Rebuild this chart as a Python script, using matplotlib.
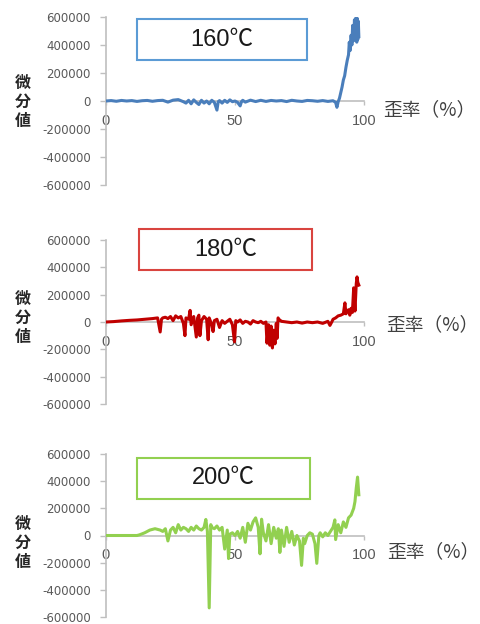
import matplotlib
matplotlib.use("Agg")
import matplotlib.pyplot as plt
from matplotlib.patches import Rectangle

plt.rcParams['font.family'] = ['Liberation Sans', 'Noto Sans CJK JP', 'DejaVu Sans']

# ---------------- data ----------------
titles = ["160℃", "180℃", "200℃"]
line_colors = ["#4a7ebb", "#c00000", "#92d050"]
box_colors = ["#5b9bd5", "#d9443f", "#92d050"]
y_ticks = [-600000, -400000, -200000, 0, 200000, 400000, 600000]
y_tick_labels = ["-600000", "-400000", "-200000", "0", "200000", "400000", "600000"]
x_ticks = [0, 50, 100]
x_tick_labels = ["0", "50", "100"]
y_label = "微\n分\n値"
x_label = "歪率（%）"

strain_160 = [0, 2, 4, 6, 8, 10, 12, 14, 16, 18, 20, 22, 24, 26, 28, 30, 31, 32, 33, 34,
              35, 36, 37, 38, 39, 40, 41, 42, 43, 43.5, 44, 45, 46, 47, 48, 49, 50, 51, 52, 52.5,
              53, 54, 56, 58, 60, 62, 64, 66, 68, 70, 72, 74, 76, 78, 80, 82, 84, 86, 88, 89,
              89.5, 90, 90.5, 91, 91.5, 92, 92.5, 93, 93.5, 94, 94.3, 94.6, 95, 95.3, 95.6, 96,
              96.3, 96.6, 97, 97.2, 97.4, 97.6, 97.8, 98]
diff_160 = [0, 3000, -2000, 4000, 0, 3000, -3000, 2000, 4000, -2000, 3000, 5000, -8000, 6000, 10000,
            -5000, -15000, 5000, -20000, 8000, -10000, -25000, 5000, -15000, 0, -20000, 5000, -10000,
            -65000, -5000, 3000, -15000, 5000, -10000, 8000, -5000, 0, -10000, -35000, -5000,
            5000, -8000, 6000, -4000, 5000, -3000, 4000, 0, 3000, -4000, 5000, 0, -3000, 4000,
            2000, -2000, 3000, -3000, 2000, -10000, -45000, -5000, 20000, 60000, 100000, 150000,
            180000, 240000, 290000, 330000, 420000, 360000, 470000, 400000, 540000, 430000,
            580000, 450000, 600000, 420000, 590000, 440000, 570000, 460000]

strain_180 = [0, 3, 6, 9, 12, 15, 18, 20, 21, 21.5, 22, 23, 24, 25, 26, 27, 28, 29, 30, 30.6,
              31, 32, 32.6, 33, 34, 35, 35.5, 36, 36.4, 37, 38, 39, 39.6, 40, 41, 41.5, 42, 43,
              44, 45, 46, 47, 48, 49, 49.8, 50.3, 51, 52, 53, 54, 55, 56, 57, 58, 59, 60, 61,
              62, 62.4, 63, 63.5, 64, 64.5, 65, 65.5, 66, 66.3, 66.7, 67, 68, 70, 72, 74, 76,
              78, 80, 82, 84, 86, 86.8, 87.5, 88, 89, 90, 91, 92, 92.6, 93, 94, 94.5, 95, 95.5,
              96, 96.5, 97, 97.3, 97.6, 98]
diff_180 = [0, 3000, 8000, 12000, 15000, 20000, 25000, 30000, -73000, 20000, 30000, 35000, 25000,
            40000, 10000, 45000, 30000, 40000, -10000, -100000, 30000, 20000, 85000, -20000,
            40000, -110000, 30000, 50000, -100000, 10000, 40000, 20000, -130000, 30000, -20000,
            -70000, 10000, 20000, -40000, 10000, -10000, 5000, 20000, -20000, -145000, 10000,
            0, 15000, -10000, 5000, 0, -15000, 10000, 0, -5000, 5000, -10000, 0, -155000,
            -20000, -170000, -30000, -190000, -60000, -160000, -10000, -120000, 30000, 20000,
            5000, 0, -5000, 0, -8000, 0, -5000, 0, -10000, 5000, -25000, 0, 20000, 30000, 45000,
            50000, 60000, 140000, 60000, 90000, 50000, 100000, 70000, 250000, 80000, 280000,
            330000, 290000, 270000]

strain_200 = [0, 3, 6, 9, 12, 13, 15, 17, 19, 21, 22, 23, 24, 25, 26, 27, 28, 29, 30, 31, 32,
              33, 34, 35, 36, 37, 38, 38.7, 39.3, 40, 40.6, 41, 42, 43, 44, 45, 46, 47, 47.5, 48,
              49, 50, 51, 52, 53, 54, 55, 56, 57, 58, 59, 59.7, 60.3, 61, 62, 63, 64, 65, 66,
              66.8, 67.4, 68, 69, 70, 71, 72, 73, 74, 75, 75.8, 76.5, 77, 78, 79, 80, 81, 81.7,
              82.5, 83, 84, 85, 86, 87, 88, 88.7, 89, 90, 91, 92, 93, 94, 95, 96, 96.5, 97,
              97.5, 98]
diff_200 = [0, 0, 0, 0, 0, 5000, 20000, 40000, 50000, 40000, 30000, 50000, -40000, 40000,
            60000, 20000, 80000, 40000, 60000, 50000, 30000, 60000, 40000, 70000, 50000, 40000,
            60000, 118000, 30000, -533000, 80000, 60000, 50000, 70000, 40000, 60000, -100000,
            40000, -170000, 10000, 20000, 0, 30000, -20000, 60000, -50000, 90000, 40000,
            100000, 130000, 60000, -135000, 120000, 20000, -40000, 80000, -60000, 60000,
            -20000, 50000, -125000, 40000, -80000, 60000, -50000, 30000, -70000, 0, -40000,
            -220000, -20000, -60000, 0, 20000, 10000, -60000, -205000, 0, 20000, -10000, 20000,
            0, 30000, 60000, 115000, -30000, 80000, 20000, 100000, 60000, 130000, 150000,
            200000, 250000, 350000, 430000, 300000]

strains = [strain_160, strain_180, strain_200]
diffs = [diff_160, diff_180, diff_200]

# ---------------- layout ----------------
W, H = 480, 624
fig = plt.figure(figsize=(W / 100, H / 100), dpi=100)

# (left, top, right, bottom) of each plot area in pixels
panels = [(106, 17, 364, 185), (106, 240, 364, 404), (106, 454, 364, 617)]
# title box pixels (left, top, right, bottom)
boxes = [(137, 19, 307, 60), (139, 229, 312, 270), (137, 458, 310, 499)]
ylab_y = [102, 318, 543]
xlab_pos = [(429, 110), (432, 325), (433, 552)]

spine_col = "#bfbfbf"
tick_col = "#595959"
num_font = ['DejaVu Sans']

for i in range(3):
    l, t, r, b = panels[i]
    ax = fig.add_axes([l / W, 1 - b / H, (r - l) / W, (b - t) / H])
    ax.plot(strains[i], diffs[i], color=line_colors[i], lw=2.2, solid_joinstyle='round',
            zorder=4)
    ax.set_xlim(0, 100)
    ax.set_ylim(-600000, 600000)
    ax.set_yticks(y_ticks)
    ax.set_yticklabels(y_tick_labels, family=num_font)
    ax.set_xticks(x_ticks)
    ax.set_xticklabels(x_tick_labels, family=num_font)
    for s in ['top', 'right']:
        ax.spines[s].set_visible(False)
    ax.spines['bottom'].set_position(('data', 0))
    ax.spines['left'].set_color(spine_col)
    ax.spines['bottom'].set_color(spine_col)
    ax.spines['left'].set_linewidth(1.2)
    ax.spines['bottom'].set_linewidth(1.2)
    ax.tick_params(axis='y', direction='out', length=4, width=1, color=spine_col,
                   labelsize=8.5, labelcolor=tick_col, pad=7)
    ax.tick_params(axis='x', direction='out', length=3, width=1, color=spine_col,
                   labelsize=10.5, labelcolor=tick_col, pad=6)
    ax.set_facecolor('none')

    bl, bt, br, bb = boxes[i]
    fig.patches.append(Rectangle((bl / W, 1 - bb / H), (br - bl) / W, (bb - bt) / H,
                                 transform=fig.transFigure, facecolor='white',
                                 edgecolor=box_colors[i], linewidth=1.5, zorder=3))
    fig.text((bl + br) / 2 / W, 1 - (bt + bb) / 2 / H, titles[i], fontsize=17,
             ha='center', va='center', color='#1a1a1a', zorder=4,
             family=['Liberation Sans', 'Noto Sans CJK JP', 'DejaVu Sans'])

    fig.text(23 / W, 1 - ylab_y[i] / H, y_label, fontsize=11.5, ha='center', va='center',
             linespacing=1.2, color='#262626', weight='bold',
             family=['Noto Sans CJK JP', 'DejaVu Sans'])
    xx, yy = xlab_pos[i]
    fig.text(xx / W, 1 - yy / H, x_label, fontsize=13.5, ha='center', va='center',
             color='#404040', family=['Noto Sans CJK JP', 'DejaVu Sans'])

fig.savefig("out.png", dpi=100, facecolor='white')
